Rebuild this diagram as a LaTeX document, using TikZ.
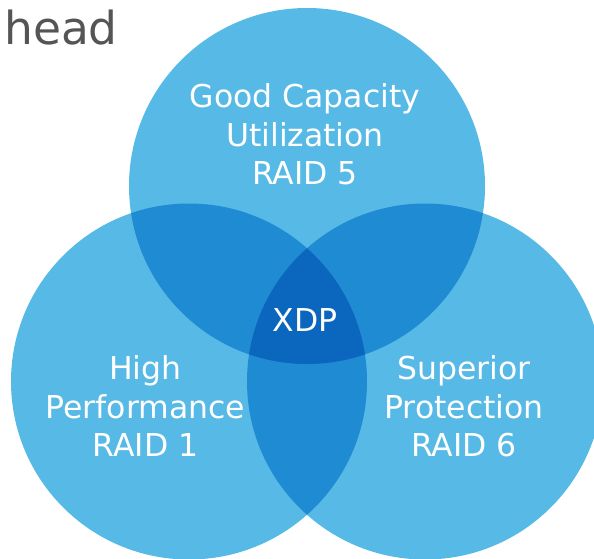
\documentclass[tikz,border=0pt]{standalone}
\usepackage{fontspec}
\setmainfont{DejaVu Sans}
\definecolor{oneset}{HTML}{57B9E6}
\definecolor{twoset}{HTML}{1F8BD3}
\definecolor{threeset}{HTML}{0B66BD}
\definecolor{headgray}{HTML}{555555}
\begin{document}
\begin{tikzpicture}[x=1pt,y=-1pt,
  ring/.style={radius=178pt},
  lbl/.style={text=white, anchor=base, inner sep=0pt,
    font=\fontsize{31.5}{39}\selectfont},
  headtext/.style={text=headgray, anchor=base west, inner sep=0pt,
    font=\fontsize{45.5}{52}\selectfont}]
\useasboundingbox (0,0) rectangle (594,558);
\clip (0,0) rectangle (594,558);

% circle centres
\coordinate (cT) at (307,186);
\coordinate (cL) at (189,381.5);
\coordinate (cR) at (425,381.5);

% single regions
\fill[oneset] (cT) circle[ring];
\fill[oneset] (cL) circle[ring];
\fill[oneset] (cR) circle[ring];

% pairwise overlaps
\begin{scope}
  \clip (cT) circle[ring];
  \fill[twoset] (cL) circle[ring];
  \fill[twoset] (cR) circle[ring];
\end{scope}
\begin{scope}
  \clip (cL) circle[ring];
  \fill[twoset] (cR) circle[ring];
\end{scope}

% common centre
\begin{scope}
  \clip (cT) circle[ring];
  \clip (cL) circle[ring];
  \fill[threeset] (cR) circle[ring];
\end{scope}

% heading fragment
\node[headtext] (title) at (4,44) {head};

% labels
\node[lbl] (good)  at (305,107) {Good Capacity};
\node[lbl] (util)  at (305,146) {Utilization};
\node[lbl] (raid5) at (305,184) {RAID 5};

\node[lbl] (high)  at (145.5,379) {High};
\node[lbl] (perf)  at (145.5,418) {Performance};
\node[lbl] (raid1) at (145.5,456) {RAID 1};

\node[lbl] (sup)   at (464,379) {Superior};
\node[lbl] (prot)  at (464,418) {Protection};
\node[lbl] (raid6) at (464,456) {RAID 6};

\node[lbl] (xdp)   at (305,331) {XDP};
\end{tikzpicture}
\end{document}
